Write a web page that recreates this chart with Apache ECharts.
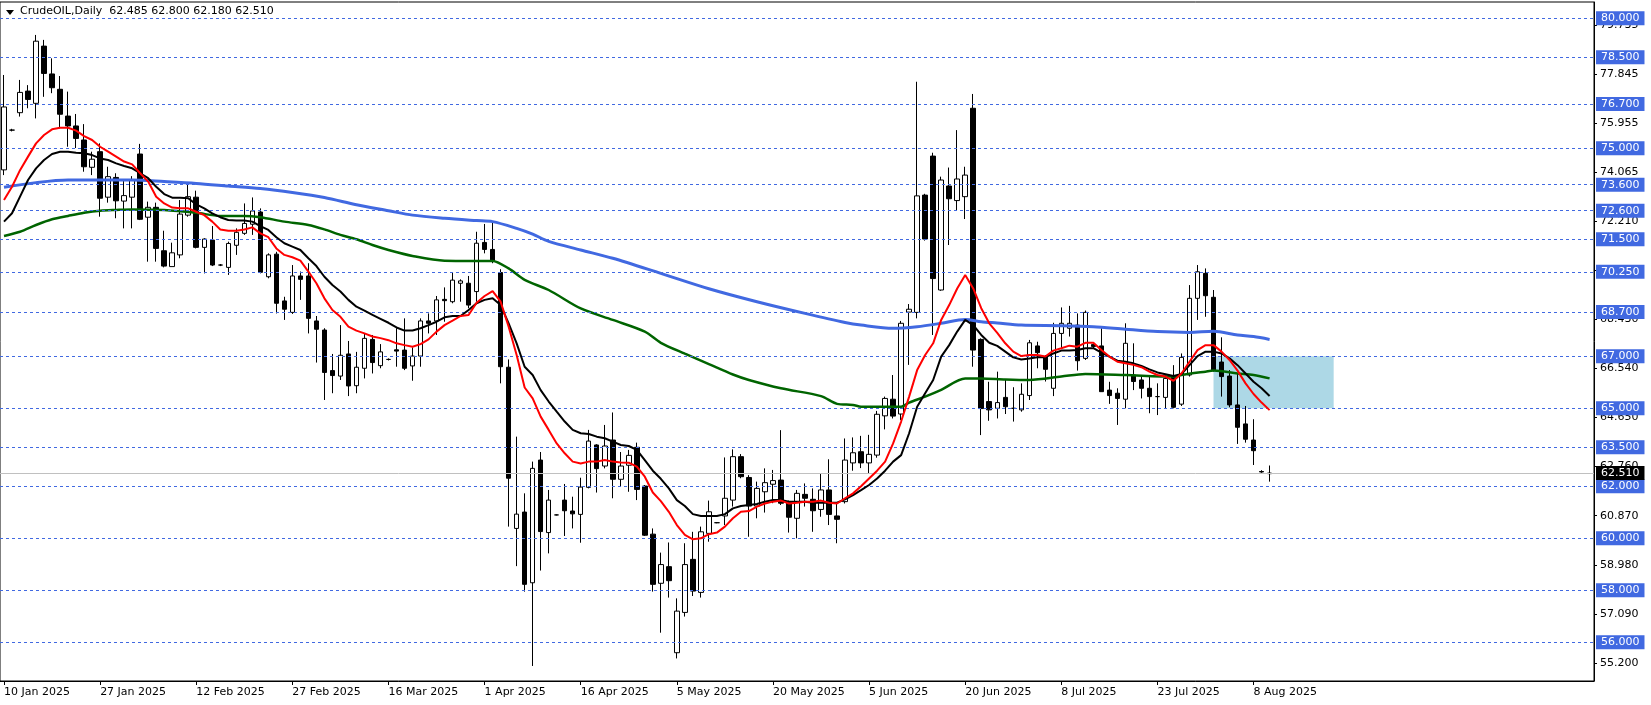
<!DOCTYPE html>
<html><head><meta charset="utf-8">
<script src="https://cdn.jsdelivr.net/npm/echarts@6/dist/echarts.min.js"></script>
<style>html,body{margin:0;padding:0;background:#fff}#c{width:1651px;height:705px}</style>
</head><body><div id="c"></div>
<script>
// ---- data ----
const tickLabels = ['10 Jan 2025','27 Jan 2025','12 Feb 2025','27 Feb 2025','16 Mar 2025','1 Apr 2025','16 Apr 2025','5 May 2025','20 May 2025','5 Jun 2025','20 Jun 2025','8 Jul 2025','23 Jul 2025','8 Aug 2025'];
const opens = [74.17,75.70,76.37,77.20,76.73,78.93,77.86,77.27,76.24,75.86,75.32,74.27,74.87,73.12,73.88,72.97,73.12,74.78,72.35,72.73,71.06,70.45,70.90,72.43,73.12,71.19,71.47,70.51,70.42,71.27,71.73,72.08,72.55,70.06,70.93,69.13,68.69,70.09,70.09,68.36,68.01,66.45,66.24,67.09,65.87,66.54,67.65,66.64,66.88,67.25,67.24,66.63,67.01,68.36,68.36,69.19,69.10,69.81,69.81,69.49,71.38,71.11,70.22,66.58,60.38,61.01,58.29,63.01,60.22,60.90,61.47,61.05,60.92,61.96,63.59,62.78,63.78,62.27,62.81,63.50,62.01,60.16,58.27,58.91,55.60,57.15,59.19,57.92,60.19,60.60,60.86,61.47,63.14,62.34,61.24,61.79,62.08,62.24,61.37,60.77,61.69,61.50,61.11,61.86,60.86,61.41,62.90,63.33,62.90,63.20,64.71,65.35,64.78,68.70,68.69,73.20,74.70,69.55,73.55,72.99,73.14,76.54,67.65,65.26,65.00,65.42,65.00,64.94,65.49,67.40,66.99,65.77,67.88,68.08,68.20,66.92,67.45,67.40,65.70,65.58,65.35,66.28,66.09,65.77,65.45,65.42,66.22,65.16,66.28,69.23,70.19,69.27,66.78,66.24,65.13,64.40,63.78,62.57,62.485];
const closes = [76.59,75.70,77.15,76.88,79.12,77.88,77.33,76.31,75.86,75.38,74.29,74.58,73.08,73.91,72.98,73.18,73.78,72.27,72.73,71.15,70.47,70.98,72.47,73.14,71.19,71.51,70.51,70.51,71.34,71.77,72.11,72.59,70.23,70.90,69.04,68.81,70.09,69.96,68.46,68.04,66.38,66.26,67.04,65.86,66.58,67.69,66.76,67.17,66.88,67.20,66.54,67.01,68.36,68.27,69.17,69.14,69.93,69.90,68.97,71.35,71.11,70.68,66.60,62.31,60.93,58.23,62.69,60.26,61.47,60.90,61.06,60.94,61.97,63.74,62.68,63.55,62.27,62.78,63.19,61.88,60.12,58.23,58.99,58.37,57.20,58.99,57.97,60.25,61.02,60.60,61.54,63.14,62.37,61.24,61.92,62.14,62.22,61.35,60.81,61.73,61.54,61.06,61.86,60.92,60.73,63.01,63.29,62.90,63.23,64.77,65.38,64.70,68.27,68.81,73.17,71.51,69.99,73.78,73.06,73.82,73.97,67.24,64.99,64.94,65.22,65.06,65.00,65.54,67.52,67.14,66.50,67.88,68.27,68.27,66.83,68.69,67.38,65.64,65.49,65.38,67.50,66.03,65.77,65.45,65.45,66.15,65.04,66.96,69.23,70.25,69.33,66.47,66.22,65.13,64.27,63.81,63.37,62.55,62.51];
const lows = [73.97,75.65,76.22,76.54,76.15,76.98,77.12,75.77,75.06,75.01,74.10,73.97,72.37,72.91,72.31,71.92,71.92,72.24,70.64,70.64,70.42,70.45,70.77,72.37,71.15,70.19,70.47,70.47,70.13,70.90,71.67,71.67,70.19,70.00,68.65,68.40,68.63,69.17,67.88,66.76,65.32,65.58,66.09,65.47,65.58,66.15,66.34,66.54,66.84,66.60,66.47,66.06,66.60,67.88,67.82,68.33,69.04,69.10,68.85,69.10,70.96,70.58,65.96,60.45,58.93,57.95,55.09,58.76,59.42,60.88,60.09,60.38,59.83,61.92,61.76,62.69,61.54,61.99,61.79,61.47,60.09,57.95,56.37,57.72,55.38,56.99,57.78,57.72,59.87,60.58,60.51,61.22,62.31,60.06,60.77,60.99,61.35,61.28,60.22,60.00,61.22,60.25,60.83,60.51,59.81,61.34,62.60,62.70,62.50,63.10,64.19,64.61,64.55,66.67,68.46,71.45,67.82,69.52,71.28,72.60,72.28,66.60,63.97,64.52,64.61,64.78,64.49,64.87,65.32,66.54,66.03,65.47,67.31,67.76,66.45,66.86,67.30,65.64,65.17,64.36,65.00,65.70,65.38,64.81,64.74,65.00,65.00,65.09,66.22,68.40,68.52,66.41,65.45,65.04,63.63,63.68,62.82,62.52,62.18];
const highs = [77.82,75.75,77.63,77.43,79.36,79.17,78.46,77.78,77.18,76.32,75.93,74.87,75.19,74.29,74.04,73.78,73.93,75.17,72.95,72.91,71.83,71.37,73.01,73.59,73.37,71.54,72.01,70.55,71.41,71.92,72.88,73.11,72.69,70.96,71.02,69.29,70.51,70.26,70.58,68.55,68.08,67.09,68.20,67.59,67.17,67.86,67.82,67.47,66.92,68.08,68.46,67.34,68.46,68.65,69.32,69.65,70.22,69.96,70.09,71.79,72.09,72.14,70.35,66.88,63.91,61.73,62.95,63.32,61.86,60.92,62.09,61.60,62.33,64.17,63.62,64.36,64.84,63.32,63.40,63.68,62.05,60.38,59.45,59.84,57.69,59.81,60.25,60.45,61.45,60.62,63.11,63.42,63.24,62.43,62.18,62.69,62.63,64.16,61.45,61.86,62.11,61.92,62.50,63.04,61.34,63.84,63.88,63.94,63.98,64.90,65.45,66.28,68.36,69.01,77.56,73.25,74.83,73.91,74.26,75.70,74.29,77.09,67.69,66.02,66.41,66.09,65.81,65.96,67.63,67.56,67.05,68.29,68.88,68.94,68.65,68.76,67.55,68.08,66.02,65.77,68.27,67.50,66.28,66.22,65.96,66.31,66.66,67.11,69.74,70.51,70.38,69.55,67.73,66.47,66.34,65.09,64.58,62.62,62.80];
const maRed = [73.01,73.52,74.16,74.68,75.19,75.51,75.73,75.79,75.79,75.68,75.47,75.32,75.06,74.87,74.68,74.49,74.38,74.04,73.72,73.14,72.88,72.72,72.69,72.69,72.56,72.43,72.18,71.88,71.83,71.83,71.88,71.96,71.73,71.58,71.15,70.90,70.81,70.68,70.26,69.81,69.23,68.78,68.52,68.14,67.99,67.88,67.76,67.70,67.62,67.50,67.43,67.37,67.47,67.65,67.95,68.20,68.37,68.55,68.59,69.06,69.32,69.51,69.10,68.14,67.05,65.80,65.38,64.68,64.17,63.65,63.27,62.95,62.88,62.95,62.95,63.01,62.95,62.92,62.91,62.76,62.37,61.76,61.43,61.02,60.51,60.13,59.96,60.00,60.16,60.22,60.45,60.77,61.02,61.05,61.22,61.34,61.41,61.45,61.34,61.37,61.41,61.41,61.45,61.37,61.34,61.54,61.73,62.00,62.30,62.60,62.95,63.65,64.49,65.45,66.47,67.05,67.50,68.40,68.97,69.61,70.13,69.61,68.85,68.27,67.90,67.50,67.18,67.01,67.05,67.05,66.99,67.22,67.31,67.41,67.37,67.52,67.52,67.24,66.99,66.79,66.73,66.67,66.58,66.41,66.28,66.22,66.06,66.34,66.79,67.24,67.43,67.43,67.18,66.86,66.45,65.96,65.55,65.22,64.93];
const maBlack = [72.18,72.50,73.14,73.78,74.23,74.55,74.78,74.87,74.87,74.83,74.81,74.74,74.61,74.55,74.42,74.32,74.23,74.04,73.85,73.52,73.24,73.10,73.10,73.08,72.84,72.69,72.50,72.35,72.24,72.22,72.22,72.18,72.01,71.86,71.58,71.35,71.22,71.09,70.77,70.47,70.06,69.74,69.49,69.17,68.91,68.76,68.59,68.44,68.29,68.11,67.99,67.99,68.08,68.20,68.33,68.50,68.55,68.55,68.78,69.04,69.17,69.23,68.97,68.27,67.50,66.60,66.28,65.70,65.26,64.87,64.49,64.17,64.04,64.01,63.91,63.85,63.72,63.59,63.55,63.40,63.01,62.60,62.29,61.92,61.47,61.24,60.93,60.86,60.86,60.86,60.93,61.15,61.24,61.28,61.32,61.41,61.47,61.47,61.41,61.41,61.41,61.37,61.37,61.37,61.37,61.50,61.66,61.85,62.05,62.30,62.60,62.95,63.20,64.04,65.06,65.58,66.09,66.99,67.43,67.95,68.40,68.20,67.82,67.52,67.40,67.18,66.96,66.88,66.92,66.96,66.96,67.11,67.22,67.22,67.24,67.31,67.31,67.14,66.99,66.83,66.79,66.73,66.63,66.50,66.38,66.31,66.24,66.32,66.66,67.01,67.18,67.18,67.11,66.92,66.66,66.34,66.02,65.77,65.47];
const maGreenBars = [0,2,4,6,8,10,12,14,16,20,24,27,30,32,35,38,40,42,44,46,48,51,55,60,61,63,65,68,72,76,80,82,85,88,91,93,97,102,104,106,107,112,113,115,117,120,122,125,128,132,135,140,146,147,150,151,154,156,158];
const maGreen = [71.63,71.79,72.05,72.27,72.40,72.52,72.60,72.63,72.65,72.63,72.52,72.40,72.40,72.35,72.18,72.05,71.88,71.67,71.50,71.28,71.09,70.86,70.68,70.67,70.67,70.38,69.94,69.55,68.84,68.40,67.95,67.52,67.10,66.70,66.30,66.09,65.77,65.47,65.17,65.13,65.06,65.06,65.22,65.45,65.71,66.15,66.15,66.11,66.09,66.22,66.32,66.28,66.22,66.28,66.41,66.45,66.34,66.28,66.15];
const maBlueBars = [0,4,8,16,20,24,28,32,36,40,44,48,51,55,59,61,64,66,68,72,76,82,88,94,100,105,107,111,114,117,120,122,124,127,132,136,140,144,148,151,154,156,158];
const maBlue = [73.50,73.68,73.78,73.78,73.72,73.65,73.55,73.45,73.30,73.11,72.83,72.60,72.43,72.31,72.22,72.18,71.92,71.70,71.42,71.09,70.77,70.19,69.60,69.10,68.65,68.30,68.20,68.08,68.14,68.27,68.42,68.33,68.28,68.20,68.18,68.14,68.04,67.95,67.92,67.96,67.82,67.76,67.65];
const levelPrices = [80, 78.5, 76.7, 75, 73.6, 72.6, 71.5, 70.25, 68.7, 67, 65, 63.5, 62, 60, 58, 56];
const priceTicks = [79.735, 77.845, 75.955, 74.065, 72.21, 70.32, 68.43, 66.54, 64.65, 62.76, 60.87, 58.98, 57.09, 55.2];
const lastPrice = 62.51;
const zoneBars = [151, 166];
const zonePrices = [67, 65];
const titleText = 'CrudeOIL,Daily  62.485 62.800 62.180 62.510';
const totalSlots = 199;
const labelStep = 12;

// ---- build ----
const categories = Array.from({length: totalSlots}, (_, i) => String(i));
const candles = opens.map((o, i) => [o, closes[i], lows[i], highs[i]]);
const redData = maRed.map((v, i) => [i, v]);
const blackData = maBlack.map((v, i) => [i, v]);
const greenData = maGreenBars.map((b, i) => [b, maGreen[i]]);
const blueData = maBlueBars.map((b, i) => [b, maBlue[i]]);
const FONT = 'DejaVu Sans';
const isLabel = i => i % labelStep === 0 && (i / labelStep) < tickLabels.length;

const chart = echarts.init(document.getElementById('c'), null, {renderer: 'canvas'});
chart.setOption({
  animation: false,
  backgroundColor: '#fff',
  textStyle: {fontFamily: FONT},
  title: {text: titleText, left: 20, top: 6, padding: 0,
    textStyle: {fontFamily: FONT, fontSize: 11, fontWeight: 'normal', color: '#000'}},
  graphic: [{type: 'polygon', shape: {points: [[6, 10], [14, 10], [10, 15]]}, style: {fill: '#000'}, z: 100}],
  grid: {left: 0, right: 57, top: 2, bottom: 24, show: true, borderColor: '#000', borderWidth: 1, backgroundColor: '#fff'},
  xAxis: {
    type: 'category', data: categories, boundaryGap: true,
    axisLine: {show: true, lineStyle: {color: '#000', width: 1}},
    axisTick: {show: true, alignWithLabel: true, interval: (i) => isLabel(i), length: 4, lineStyle: {color: '#000'}},
    axisLabel: {interval: (i) => isLabel(i), formatter: (v, i) => tickLabels[Number(v) / labelStep] || '',
      align: 'left', margin: 6, fontFamily: FONT, fontSize: 11, color: '#000'},
    splitLine: {show: false}
  },
  yAxis: {
    type: 'value', position: 'right', min: 54.512, max: 80.627, scale: true,
    axisLine: {show: true, lineStyle: {color: '#000', width: 1}},
    axisTick: {show: true, customValues: priceTicks, length: 3, lineStyle: {color: '#000'}},
    axisLabel: {customValues: priceTicks, formatter: v => Number(v).toFixed(3), margin: 6,
      fontFamily: FONT, fontSize: 11, color: '#000'},
    splitLine: {show: false}
  },
  series: [
    {
      type: 'line', name: 'levels', data: [], z: 1, silent: true,
      markArea: {silent: true, itemStyle: {color: '#ADD8E6', opacity: 1},
        data: [[{xAxis: zoneBars[0], yAxis: zonePrices[0]}, {xAxis: zoneBars[1], yAxis: zonePrices[1]}]]},
      markLine: {
        silent: true, symbol: 'none', animation: false,
        lineStyle: {type: [3, 3], color: '#4169E1', width: 1},
        label: {show: true, position: 'end', distance: 2, formatter: p => Number(p.value).toFixed(3),
          backgroundColor: '#4169E1', color: '#fff', padding: [2, 5, 1, 5], fontFamily: FONT, fontSize: 11},
        data: levelPrices.map(v => ({yAxis: v})).concat([{
          yAxis: lastPrice, lineStyle: {type: 'solid', color: '#C0C0C0', width: 1},
          label: {backgroundColor: '#000', color: '#fff'}
        }])
      }
    },
    {
      type: 'candlestick', name: 'CrudeOIL', data: candles, barWidth: 5, z: 3,
      itemStyle: {color: '#fff', color0: '#000', borderColor: '#000', borderColor0: '#000', borderWidth: 1}
    },
    {type: 'line', name: 'MA blue', data: blueData, showSymbol: false, smooth: 0.3, z: 4,
      lineStyle: {color: '#4169E1', width: 3}},
    {type: 'line', name: 'MA green', data: greenData, showSymbol: false, smooth: 0.3, z: 4,
      lineStyle: {color: '#006400', width: 2.5}},
    {type: 'line', name: 'MA black', data: blackData, showSymbol: false, z: 5,
      lineStyle: {color: '#000', width: 2}},
    {type: 'line', name: 'MA red', data: redData, showSymbol: false, z: 5,
      lineStyle: {color: '#FF0000', width: 2}}
  ]
});
</script></body></html>
